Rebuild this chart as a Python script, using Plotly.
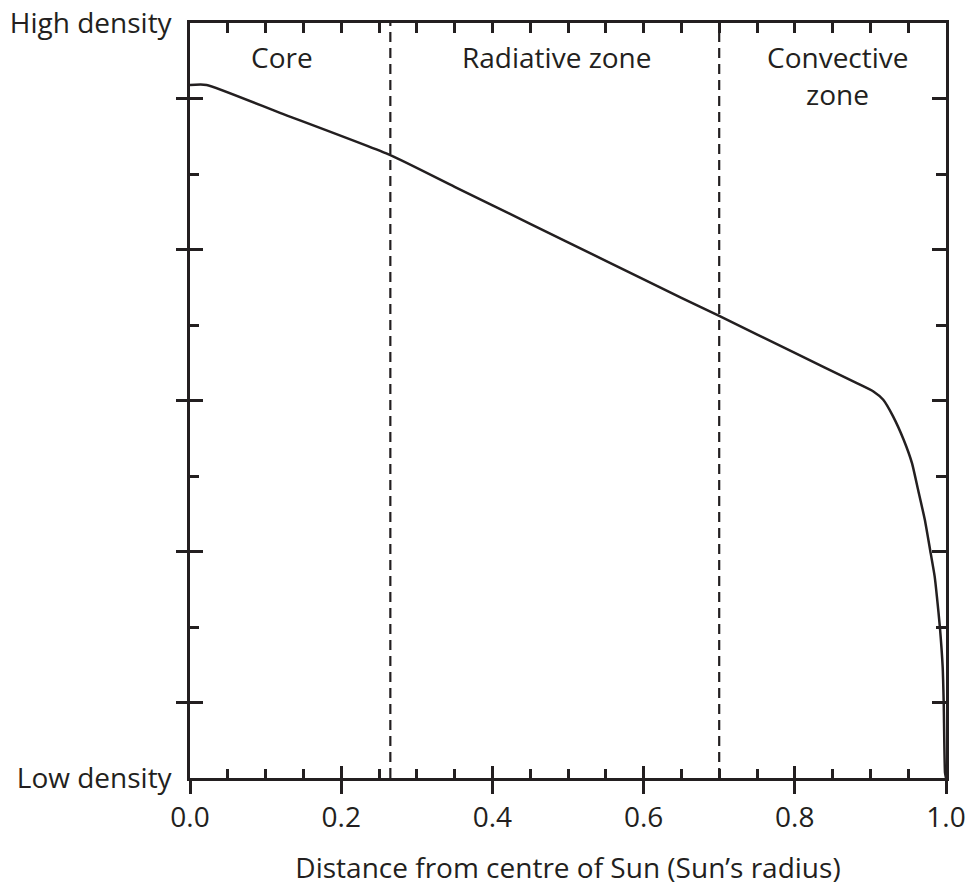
import plotly.graph_objects as go

# Density profile (relative units: 0 = low density, 1 = high density)
radius = [0.0, 0.022, 0.119, 0.265, 0.35, 0.45, 0.55, 0.65, 0.70,
          0.80, 0.88, 0.904, 0.917, 0.930, 0.944, 0.955, 0.963, 0.972, 0.979,
          0.985, 0.988, 0.992, 0.9956, 0.997, 0.9987, 1.0]
density = [0.918, 0.918, 0.881, 0.825, 0.783, 0.734, 0.685, 0.636, 0.612,
           0.563, 0.524, 0.512, 0.501, 0.479, 0.448, 0.417, 0.382, 0.342, 0.302,
           0.267, 0.240, 0.199, 0.147, 0.099, 0.007, 0.0]

boundaries = [0.265, 0.70]
zone_names = ["Core", "Radiative zone", "Convective", "zone"]
zone_label_x = [0.122, 0.486, 0.857, 0.857]
zone_label_y = [0.955, 0.955, 0.955, 0.906]

x_ticks = [0.0, 0.2, 0.4, 0.6, 0.8, 1.0]
x_minor = [0.05, 0.1, 0.15, 0.25, 0.3, 0.35, 0.45, 0.5, 0.55, 0.65, 0.7, 0.75, 0.85, 0.9, 0.95]
x_top = [0.05 * i for i in range(1, 20)]
y_labels = ["Low density", "High density"]
y_label_vals = [0.0, 1.0]
y_major = [0.1, 0.3, 0.5, 0.7, 0.9]
y_minor = [0.2, 0.4, 0.6, 0.8]

INK = "#231f20"
FONT = "Open Sans"
FS = 28

fig = go.Figure()
fig.add_trace(go.Scatter(x=radius, y=density, mode="lines",
                         line=dict(color=INK, width=2.5, shape="spline", smoothing=0.5),
                         hoverinfo="skip", showlegend=False))
for b in boundaries:
    fig.add_trace(go.Scatter(x=[b, b], y=[0, 1], mode="lines",
                             line=dict(color=INK, width=2.2, dash="10px,6px"),
                             hoverinfo="skip", showlegend=False))

# empty helper traces so the overlaid tick-only axes get drawn
for xa, ya in [("x2", "y"), ("x3", "y"), ("x4", "y"),
               ("x", "y2"), ("x", "y3"), ("x", "y4"), ("x", "y5"), ("x", "y6")]:
    fig.add_trace(go.Scatter(x=[None], y=[None], xaxis=xa, yaxis=ya, mode="lines",
                             hoverinfo="skip", showlegend=False))

for name, xx, yy in zip(zone_names, zone_label_x, zone_label_y):
    fig.add_annotation(x=xx, y=yy, xref="x", yref="y", text=name, showarrow=False,
                       font=dict(family=FONT, size=FS, color=INK))

common = dict(range=[0, 1], fixedrange=True, showgrid=False, zeroline=False,
              tickcolor=INK, tickwidth=2.5, automargin=False)

fig.update_layout(
    width=968, height=896,
    margin=dict(l=190, r=22, t=23, b=118),
    paper_bgcolor="white", plot_bgcolor="white",
    font=dict(family=FONT, size=FS, color=INK),
    xaxis=dict(**common, tickmode="array", tickvals=x_ticks,
               ticktext=[f"{v:.1f}" for v in x_ticks],
               ticks="outside", ticklen=13, showline=True, linecolor=INK,
               linewidth=2.5, mirror=True,
               title=dict(text="Distance from centre of Sun (Sun\u2019s radius)",
                          standoff=25, font=dict(size=FS))),
    xaxis2=dict(**common, overlaying="x", anchor="y", side="bottom",
                tickmode="array", tickvals=x_ticks, ticks="inside", ticklen=12,
                showticklabels=False),
    xaxis3=dict(**common, overlaying="x", anchor="y", side="bottom",
                tickmode="array", tickvals=x_minor, ticks="inside", ticklen=9,
                showticklabels=False),
    xaxis4=dict(**common, overlaying="x", anchor="y", side="top",
                tickmode="array", tickvals=x_top, ticks="inside", ticklen=10,
                showticklabels=False),
    yaxis=dict(**common, tickmode="array", tickvals=y_label_vals, ticktext=y_labels,
               ticks="", ticklabelstandoff=10, showline=True, linecolor=INK,
               linewidth=2.5, mirror=True),
    yaxis2=dict(**common, overlaying="y", anchor="x", side="left",
                tickmode="array", tickvals=y_major, ticks="outside", ticklen=13,
                showticklabels=False),
    yaxis3=dict(**common, overlaying="y", anchor="x", side="left",
                tickmode="array", tickvals=y_major, ticks="inside", ticklen=13,
                showticklabels=False),
    yaxis4=dict(**common, overlaying="y", anchor="x", side="left",
                tickmode="array", tickvals=y_minor, ticks="inside", ticklen=9,
                showticklabels=False),
    yaxis5=dict(**common, overlaying="y", anchor="x", side="right",
                tickmode="array", tickvals=y_major, ticks="inside", ticklen=14,
                showticklabels=False),
    yaxis6=dict(**common, overlaying="y", anchor="x", side="right",
                tickmode="array", tickvals=y_minor, ticks="inside", ticklen=10,
                showticklabels=False),
)

fig.write_html("out.html", config={"displayModeBar": False},
               post_script="document.body.style.margin='0';document.body.style.padding='0';")
